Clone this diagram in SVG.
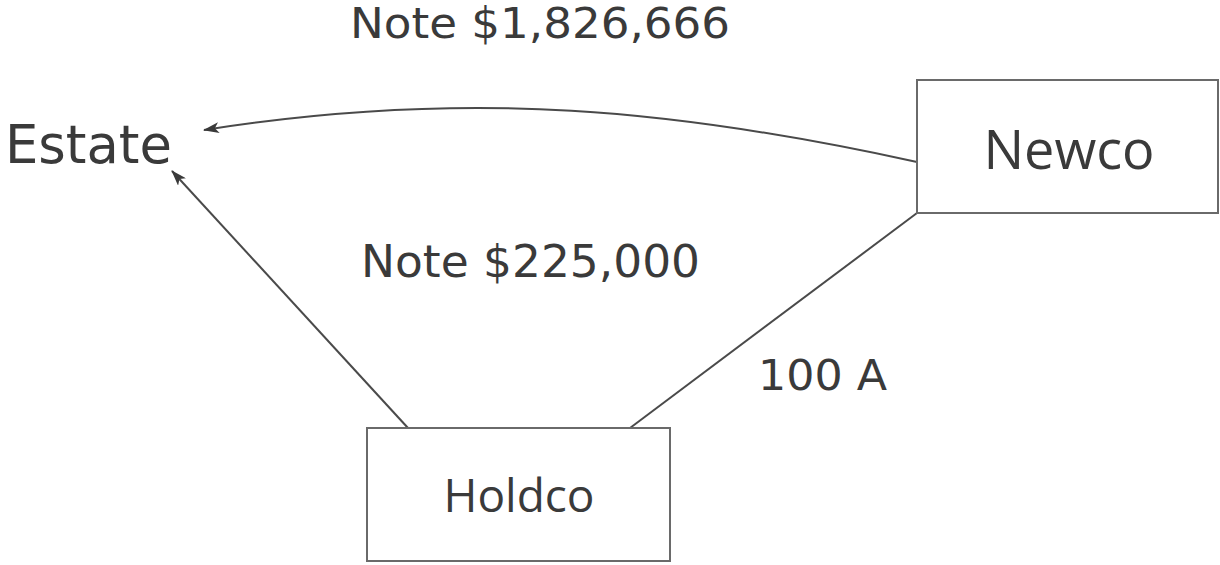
<svg xmlns="http://www.w3.org/2000/svg" width="1220" height="565" viewBox="0 0 1220 565">
  <style>
    .box { fill: #ffffff; stroke: #6a6a6a; stroke-width: 2; }
    .name { font-family: "Open Sans", "Noto Sans", sans-serif; fill: #3a3a3a; text-anchor: middle; }
    .label { font-family: "DejaVu Sans", Verdana, sans-serif; fill: #3a3a3a; }
    .link { fill: none; stroke: #4a4a4a; stroke-width: 2; }
  </style>
  <defs>
    <marker id="arrow" viewBox="0 0 16 11" refX="15" refY="5.5" markerWidth="16" markerHeight="11" markerUnits="userSpaceOnUse" orient="auto">
      <path d="M0,0 L16,5.5 L0,11 L4,5.5 Z" fill="#3a3a3a"/>
    </marker>
  </defs>
  <rect width="1220" height="565" fill="#ffffff"/>

  <g id="connectors">
    <path class="link" d="M917,162 C680,110 470,88 204,130" marker-end="url(#arrow)"/>
    <path class="link" d="M408,428 L172,171" marker-end="url(#arrow)"/>
    <path class="link" d="M630,428 L917,213"/>
  </g>

  <g id="labels">
    <text class="label" x="350" y="38" font-size="42" textLength="380" lengthAdjust="spacingAndGlyphs">Note $1,826,666</text>
    <text class="label" x="361" y="277" font-size="44" textLength="339" lengthAdjust="spacingAndGlyphs">Note $225,000</text>
    <text class="label" x="758" y="390" font-size="42" textLength="129" lengthAdjust="spacingAndGlyphs">100 A</text>
  </g>

  <g id="estate">
    <text class="label" x="5" y="163" font-size="54" textLength="167" lengthAdjust="spacingAndGlyphs">Estate</text>
  </g>

  <g id="newco">
    <rect class="box" x="917" y="80" width="301" height="133"/>
    <text class="name" x="1069" y="169" font-size="54">Newco</text>
  </g>

  <g id="holdco">
    <rect class="box" x="367" y="428" width="303" height="133"/>
    <text class="name" x="519" y="512" font-size="46">Holdco</text>
  </g>
</svg>
